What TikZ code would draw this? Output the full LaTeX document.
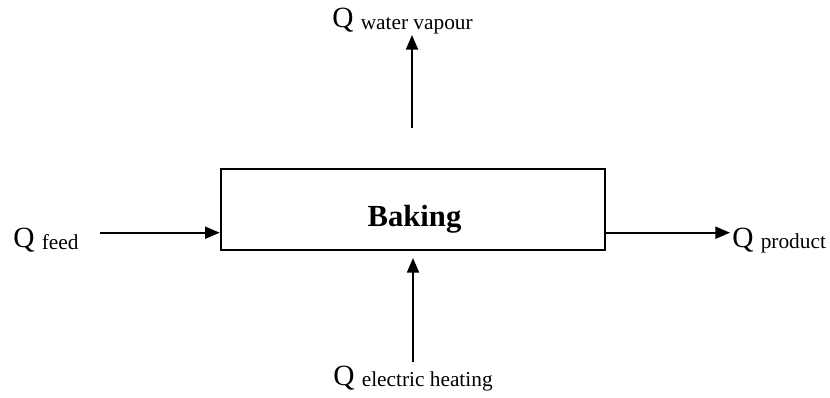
\documentclass[tikz,border=0pt]{standalone}
\usepackage{fontspec}
\setmainfont{Liberation Serif}
\usetikzlibrary{arrows.meta}
\newcommand{\qlabel}[1]{{\fontsize{22}{22}\selectfont Q {\raisebox{-1pt}{\fontsize{16}{16}\selectfont #1}}}}
\begin{document}
\begin{tikzpicture}[x=0.75pt,y=-0.75pt,
  flow/.style={line width=1.5pt,-{Triangle[length=11pt,width=9pt]}},
  procbox/.style={draw,line width=1.5pt,minimum width=384.3*0.75pt,minimum height=81*0.75pt,inner sep=0pt},
  qlab/.style={anchor=base west,inner sep=0pt}]
\useasboundingbox (0,0) rectangle (830,398);
\node[procbox] (box) at (412.85,209.5) {};
\node[anchor=base,inner sep=0pt,font=\fontsize{23}{23}\selectfont\bfseries] (baking) at (414.5,226.7) {Baking};
\node[qlab] (feed) at (13,248) {\qlabel{feed}};
\node[qlab] (product) at (732,247.5) {\qlabel{product}};
\node[qlab] (vapour) at (332,28) {\qlabel{water vapour}};
\node[qlab] (heating) at (333,385) {\qlabel{electric heating}};
\coordinate (feedstart) at (100,232.7);
\coordinate (prodend) at (730,232.7);
\coordinate (vapstart) at (412,128);
\coordinate (vapend) at (412,35);
\coordinate (heatstart) at (413,362);
\coordinate (heatend) at (413,258);
\draw[flow] (feedstart) -- (box.west |- feedstart);
\draw[flow] (box.east |- prodend) -- (prodend);
\draw[flow] (vapstart) -- (vapend);
\draw[flow] (heatstart) -- (heatend);
\end{tikzpicture}
\end{document}
